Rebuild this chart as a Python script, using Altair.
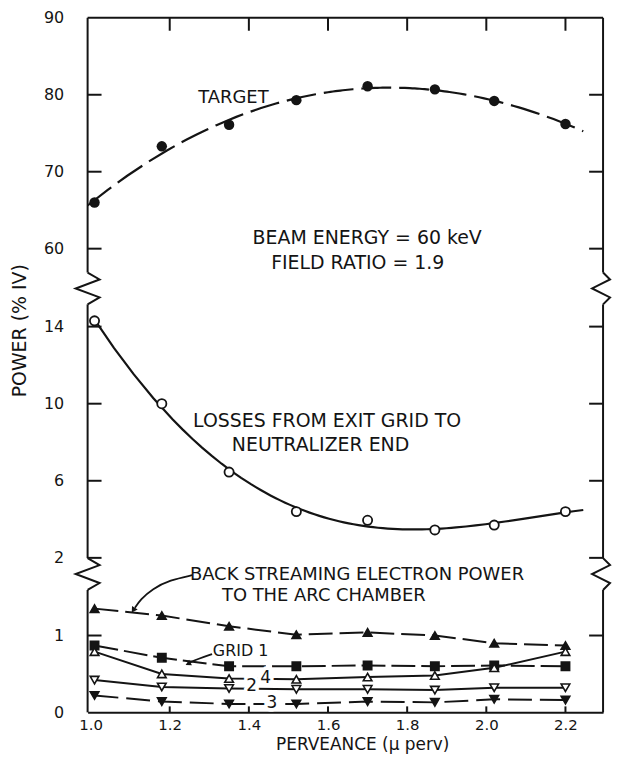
import altair as alt
import pandas as pd

# ---------------- data ----------------
perveance = [1.01, 1.18, 1.35, 1.52, 1.70, 1.87, 2.02, 2.20]
target = [66.0, 73.3, 76.1, 79.3, 81.1, 80.7, 79.2, 76.2]
losses = [14.3, 10.0, 6.45, 4.4, 3.95, 3.45, 3.7, 4.4]
back_streaming = [1.35, 1.26, 1.12, 1.01, 1.04, 1.00, 0.90, 0.87]
grid_1 = [0.87, 0.71, 0.60, 0.60, 0.61, 0.60, 0.61, 0.60]
grid_4 = [0.79, 0.50, 0.44, 0.43, 0.46, 0.48, 0.58, 0.79]
grid_2 = [0.42, 0.33, 0.31, 0.30, 0.30, 0.29, 0.32, 0.32]
grid_3 = [0.22, 0.14, 0.11, 0.11, 0.14, 0.13, 0.17, 0.16]

x_tick_values = [1.0, 1.2, 1.4, 1.6, 1.8, 2.0, 2.2]
top_tick_values = [60, 70, 80, 90]
mid_tick_values = [2, 6, 10, 14]
bot_tick_values = [0, 1]

# ---------------- layout / style ----------------
INK = "#141414"
FONT = "DejaVu Sans"
W, H1, H2, H3 = 518, 272, 287, 139
XDOM = [0.9925, 2.295]
GAP = 16

x_scale = alt.Scale(domain=XDOM, nice=False, zero=False)
ONE = pd.DataFrame({"k": [0]})


def y_axis(vals, **kw):
    return alt.Axis(values=vals, ticks=False, domain=False, grid=False, labelPadding=24,
                    labelFontSize=16, labelFont=FONT, labelColor=INK, **kw)


NO_X = alt.Axis(values=x_tick_values, labels=False, ticks=False, domain=False, grid=False, title=None)
BOT_X = alt.Axis(values=x_tick_values, format=".1f", ticks=False, domain=True, domainColor=INK,
                 domainWidth=2, grid=False, labelFont=FONT, labelFontSize=15, labelColor=INK,
                 labelPadding=5, labelFlush=False, title="PERVEANCE (\u03bc perv)",
                 titleFont=FONT, titleFontSize=17, titleFontWeight="normal", titleColor=INK,
                 titlePadding=4, titleX=276)

TOP = {"dom": [54.83, 90.0], "xaxis": NO_X,
       "yaxis": y_axis(top_tick_values, title=None)}
MID = {"dom": [1.16, 15.98], "xaxis": NO_X,
       "yaxis": y_axis(mid_tick_values, title="POWER (% IV)", titleFont=FONT, titleFontSize=19,
                       titleFontWeight="normal", titleColor=INK, titleX=-68, titleY=42,
                       titleAngle=270, titleAlign="center", titleBaseline="middle")}
BOT = {"dom": [0.0, 1.8], "xaxis": BOT_X,
       "yaxis": y_axis(bot_tick_values, title=None)}


def X(field, P):
    return alt.X(f"{field}:Q", scale=x_scale, axis=P["xaxis"])


def Y(field, P):
    return alt.Y(f"{field}:Q", scale=alt.Scale(domain=P["dom"], nice=False, zero=False),
                 axis=P["yaxis"])


def vrule(x, y1, y2):
    return alt.Chart(ONE).mark_rule(color=INK, strokeWidth=2).encode(
        x=alt.value(x), y=alt.value(y1), y2=alt.value(y2))


def hrule(y, x1, x2):
    return alt.Chart(ONE).mark_rule(color=INK, strokeWidth=2).encode(
        y=alt.value(y), x=alt.value(x1), x2=alt.value(x2))


def y_ticks(vals, P, length=14):
    base = alt.Chart(pd.DataFrame({"v": vals})).mark_rule(color=INK, strokeWidth=2)
    return [base.encode(y=Y("v", P), x=alt.value(0), x2=alt.value(length)),
            base.encode(y=Y("v", P), x=alt.value(W - length), x2=alt.value(W))]


def x_ticks(y1, y2, P):
    return alt.Chart(pd.DataFrame({"t": x_tick_values[1:]})).mark_rule(
        color=INK, strokeWidth=2).encode(x=X("t", P), y=alt.value(y1), y2=alt.value(y2))


def texts(labels, xs, ys, P, size=19, align="left", halo=False):
    df = pd.DataFrame({"label": labels, "x": xs, "y": ys})
    base = alt.Chart(df)
    enc = dict(x=X("x", P), y=Y("y", P), text="label:N")
    layers = []
    if halo:
        layers.append(base.mark_text(align=align, baseline="middle", font=FONT, fontSize=size,
                                     color="white", stroke="white", strokeWidth=7).encode(**enc))
    layers.append(base.mark_text(align=align, baseline="middle", font=FONT, fontSize=size,
                                 color=INK).encode(**enc))
    return layers


def series(values, P, shape, filled, dash=None, size=75):
    df = pd.DataFrame({"x": perveance, "y": values})
    base = alt.Chart(df)
    kw = dict(color=INK, strokeWidth=2)
    if dash:
        kw["strokeDash"] = dash
    line = base.mark_line(**kw).encode(x=X("x", P), y=Y("y", P))
    pts = base.mark_point(shape=shape, filled=True, fill=INK if filled else "white",
                          stroke=INK, strokeWidth=1.6, size=size, opacity=1).encode(
        x=X("x", P), y=Y("y", P))
    return [line, pts]


# ---------------- top panel (60 - 90) ----------------
target_df = pd.DataFrame({"x": perveance, "y": target})
target_fit = alt.Chart(target_df).transform_regression(
    on="x", regression="y", method="poly", order=3, extent=[XDOM[0], 2.245]
).mark_line(color=INK, strokeWidth=2.2, strokeDash=[30, 8]).encode(x=X("x", TOP), y=Y("y", TOP))
target_pts = alt.Chart(target_df).mark_point(shape="circle", filled=True, color=INK, size=110,
                                             opacity=1).encode(x=X("x", TOP), y=Y("y", TOP))

top_layers = [target_fit, target_pts, hrule(0, 0, W), vrule(0, 0, H1 - GAP),
              vrule(W, 0, H1 - GAP), x_ticks(0, 13, TOP)]
top_layers += y_ticks([60, 70, 80], TOP)
top_layers += texts(["TARGET"], [1.272], [79.6], TOP, size=18)
top_layers += texts(["BEAM ENERGY = 60 keV", "FIELD RATIO = 1.9"], [1.699, 1.675], [61.37, 58.17],
                    TOP, size=19, align="center")
top = alt.layer(*top_layers).properties(width=W, height=H1)

# ---------------- middle panel (2 - 14) ----------------
losses_df = pd.DataFrame({"x": perveance, "y": losses})
losses_fit = alt.Chart(losses_df).transform_regression(
    on="x", regression="y", method="poly", order=4, extent=[1.01, 2.245]
).mark_line(color=INK, strokeWidth=2.2).encode(x=X("x", MID), y=Y("y", MID))
losses_pts = alt.Chart(losses_df).mark_point(shape="circle", filled=True, fill="white", stroke=INK,
                                             strokeWidth=1.8, size=85, opacity=1).encode(
    x=X("x", MID), y=Y("y", MID))

zig_left = [(0, -GAP), (12, -9), (-12, 0), (12, 9), (0, GAP)]
zig_right = [(0, -GAP), (7, -9), (-11, 0), (7, 9), (0, GAP)]
zrows = []
for g, (xa, yc, shape) in enumerate([(0, 0, zig_left), (W, 0, zig_right),
                                     (0, H2, zig_left), (W, H2, zig_right)]):
    for o, (dx, dy) in enumerate(shape):
        zrows.append({"g": g, "o": o, "px": xa + dx, "py": yc + dy})
zigzag = alt.Chart(pd.DataFrame(zrows)).mark_line(color=INK, strokeWidth=2).encode(
    x=alt.X("px:Q", scale=None, axis=None), y=alt.Y("py:Q", scale=None, axis=None),
    detail="g:N", order="o:Q")

mid_layers = [losses_fit, losses_pts, vrule(0, GAP, H2 - GAP), vrule(W, GAP, H2 - GAP), zigzag]
mid_layers += y_ticks(mid_tick_values, MID)
mid_layers += texts(["LOSSES FROM EXIT GRID TO", "NEUTRALIZER END"], [1.259, 1.357], [9.09, 7.86],
                    MID)
mid = alt.layer(*mid_layers).properties(width=W, height=H2)

# ---------------- bottom panel (0 - 2) ----------------
back_arrow = alt.Chart(pd.DataFrame({
    "x": [1.2565, 1.201, 1.156, 1.126, 1.112], "y": [1.785, 1.722, 1.608, 1.468, 1.36],
    "o": [0, 1, 2, 3, 4]})).mark_line(color=INK, strokeWidth=1.8, interpolate="basis").encode(
    x=X("x", BOT), y=Y("y", BOT), order="o:Q")
back_head = alt.Chart(pd.DataFrame({"x": [1.108], "y": [1.33]})).mark_point(
    shape="triangle-down", angle=32, filled=True, color=INK, size=45, opacity=1).encode(
    x=X("x", BOT), y=Y("y", BOT))
grid_arrow = alt.Chart(pd.DataFrame({
    "x": [1.307, 1.2716, 1.2490], "y": [0.759, 0.696, 0.645], "o": [0, 1, 2]})).mark_line(
    color=INK, strokeWidth=1.8, interpolate="basis").encode(x=X("x", BOT), y=Y("y", BOT), order="o:Q")
grid_head = alt.Chart(pd.DataFrame({"x": [1.2464], "y": [0.633]})).mark_point(
    shape="triangle-left", angle=333, filled=True, color=INK, size=40, opacity=1).encode(
    x=X("x", BOT), y=Y("y", BOT))

bot_layers = []
bot_layers += series(back_streaming, BOT, "triangle-up", True, dash=[24, 7])
bot_layers += series(grid_1, BOT, "square", True, dash=[24, 6], size=70)
bot_layers += series(grid_4, BOT, "triangle-up", False)
bot_layers += series(grid_2, BOT, "triangle-down", False)
bot_layers += series(grid_3, BOT, "triangle-down", True, dash=[24, 8])
bot_layers += [vrule(0, GAP, H3), vrule(W, GAP, H3), x_ticks(H3 - 6, H3, BOT)]
bot_layers += y_ticks([1], BOT)
bot_layers += texts(["4", "2", "3"], [1.4425, 1.407, 1.458], [0.443, 0.342, 0.127], BOT,
                    size=17, align="center", halo=True)
bot_layers += texts(["GRID 1"], [1.309], [0.80], BOT, size=16)
bot_layers += texts(["BACK STREAMING ELECTRON POWER", "TO THE ARC CHAMBER"], [1.251, 1.332],
                    [1.79, 1.51], BOT, size=18)
bot_layers += [back_arrow, back_head, grid_arrow, grid_head]
bot = alt.layer(*bot_layers).properties(width=W, height=H3)

chart = alt.vconcat(top, mid, bot, spacing=0, bounds="flush").properties(
    padding={"left": 2, "top": 0, "right": 0, "bottom": 0}
).configure_view(stroke=None).configure_axis(labelFont=FONT, titleFont=FONT)

chart.save("out.html", embed_options={"renderer": "svg", "actions": False})
